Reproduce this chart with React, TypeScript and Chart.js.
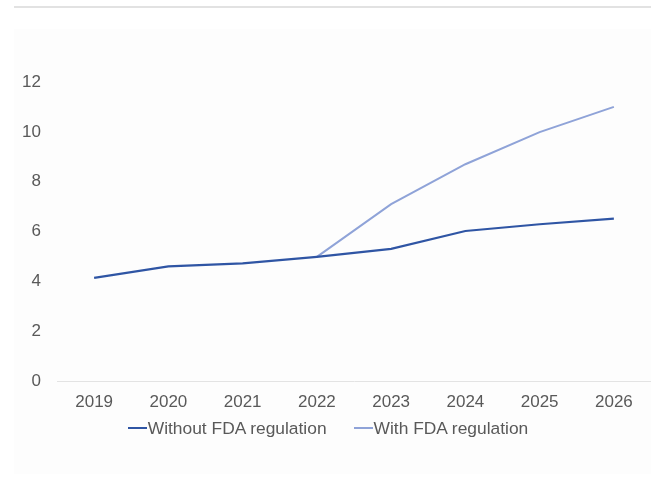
import React, { useEffect, useRef } from "react";
import { Chart, registerables } from "chart.js";

Chart.register(...registerables);

const years = ["2019", "2020", "2021", "2022", "2023", "2024", "2025", "2026"];
const withoutFda = [4.14, 4.6, 4.72, 4.98, 5.3, 6.02, 6.29, 6.52];
const withFda = [null, null, null, 4.98, 7.1, 8.7, 9.99, 11.0];
const seriesNames = ["Without FDA regulation", "With FDA regulation"];
const seriesColors = ["#2f55a4", "#8fa3d8"];

const FONT = "'Liberation Sans', Arial, Helvetica, sans-serif";

export default function App() {
  const ref = useRef<HTMLCanvasElement | null>(null);

  useEffect(() => {
    if (!ref.current) return;
    const chart = new Chart(ref.current, {
      type: "line",
      data: {
        labels: years,
        datasets: [
          {
            label: seriesNames[0],
            data: withoutFda,
            borderColor: seriesColors[0],
            backgroundColor: seriesColors[0],
            borderWidth: 2.2,
            pointRadius: 0,
            tension: 0,
          },
          {
            label: seriesNames[1],
            data: withFda as any,
            borderColor: seriesColors[1],
            backgroundColor: seriesColors[1],
            borderWidth: 2,
            pointRadius: 0,
            tension: 0,
          },
        ],
      },
      options: {
        responsive: false,
        animation: false,
        layout: { padding: { top: 82, right: 0, left: 0, bottom: 0 } },
        plugins: { legend: { display: false }, tooltip: { enabled: false } },
        scales: {
          x: {
            offset: true,
            grid: { display: false, drawTicks: false },
            border: { display: true, color: "#e3e3e3", width: 1 },
            ticks: { color: "#595959", font: { family: FONT, size: 17 }, padding: 11, maxRotation: 0 },
            afterFit: (s: any) => {
              s.height = 39;
            },
          },
          y: {
            min: 0,
            max: 12,
            grid: { display: false, drawTicks: false },
            border: { display: false },
            ticks: { stepSize: 2, color: "#595959", font: { family: FONT, size: 17 }, padding: 16 },
            afterFit: (s: any) => {
              s.width = 57;
            },
          },
        },
      },
    });
    return () => chart.destroy();
  }, []);

  return (
    <div style={{ position: "fixed", left: 0, top: 0, width: 651, height: 495, background: "#ffffff", fontFamily: FONT }}>
      <div style={{ position: "absolute", left: 14, top: 6, right: 0, height: 2, background: "#e2e2e2" }} />
      <div style={{ position: "absolute", left: 14, top: 29, right: 0, height: 445, background: "#fdfdfd" }} />
      <canvas ref={ref} width={651} height={420} style={{ position: "absolute", left: 0, top: 0 }} />
      <div
        style={{
          position: "absolute",
          left: 0,
          top: 417,
          width: 656,
          display: "flex",
          justifyContent: "center",
          gap: 27,
          fontSize: 17.4,
          color: "#595959",
          lineHeight: "22px",
        }}
      >
        {seriesNames.map((n, i) => (
          <span key={n} style={{ display: "inline-flex", alignItems: "center" }}>
            <span style={{ display: "inline-block", width: 19, height: 2, background: seriesColors[i], marginRight: 1 }} />
            {n}
          </span>
        ))}
      </div>
    </div>
  );
}
